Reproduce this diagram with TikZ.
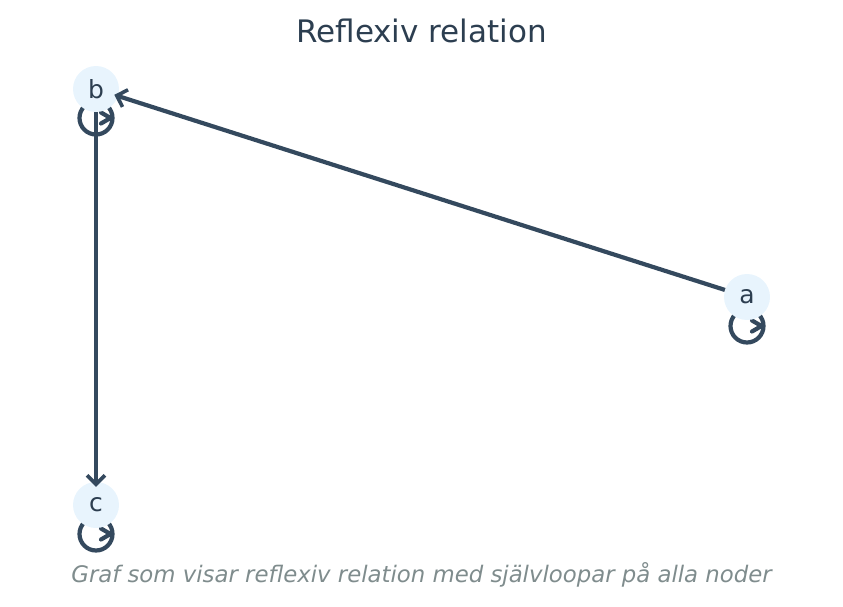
\documentclass[tikz,border=0pt]{standalone}
\usepackage{fontspec}
\setmainfont{DejaVu Sans}
\usetikzlibrary{arrows.meta}
\definecolor{edgec}{HTML}{34495E}
\definecolor{titlec}{HTML}{2C3E50}
\definecolor{nodef}{HTML}{E8F4FD}
\definecolor{capc}{HTML}{7F8C8D}
\tikzset{
  vnode/.style={circle, fill=nodef, minimum size=46pt, inner sep=0pt, text=titlec, font=\fontsize{25}{28}\selectfont},
  edge/.style={draw=edgec, line width=4.2pt, -{Straight Barb[length=9pt,width=18pt,line width=3.6pt]}},
  loopc/.style={draw=edgec, line width=4.2pt},
  chev/.style={draw=edgec, line width=4.2pt, line cap=round, line join=round},
}
\begin{document}
\begin{tikzpicture}[x=1pt,y=-1pt]
\useasboundingbox (0,0) rectangle (843,607);
% loops
\foreach \n/\x/\y in {la/747/326, lb/96/118, lc/96/534}{
  \coordinate (\n) at (\x,\y);
  \draw[loopc] (\n) circle (16.5);
  \draw[chev] ([shift={(5,-5.5)}]\n) -- ([shift={(14.5,0)}]\n) -- ([shift={(5,5.5)}]\n);
}
\node[vnode] (a) at (747,297) {a};
\node[vnode] (b) at (96,89) {b};
\node[vnode] (c) at (96,505) {c};
\draw[edge, shorten >=-4pt] (a) -- (b);
\draw[edge, shorten >=-5pt] (b) -- (c);
\node[text=titlec, font=\fontsize{31}{36}\selectfont] (title) at (421.5,31) {Reflexiv relation};
\node[text=capc, font=\fontsize{22.8}{26}\selectfont\itshape] (cap) at (421.5,575) {Graf som visar reflexiv relation med självloopar på alla noder};
\end{tikzpicture}
\end{document}
